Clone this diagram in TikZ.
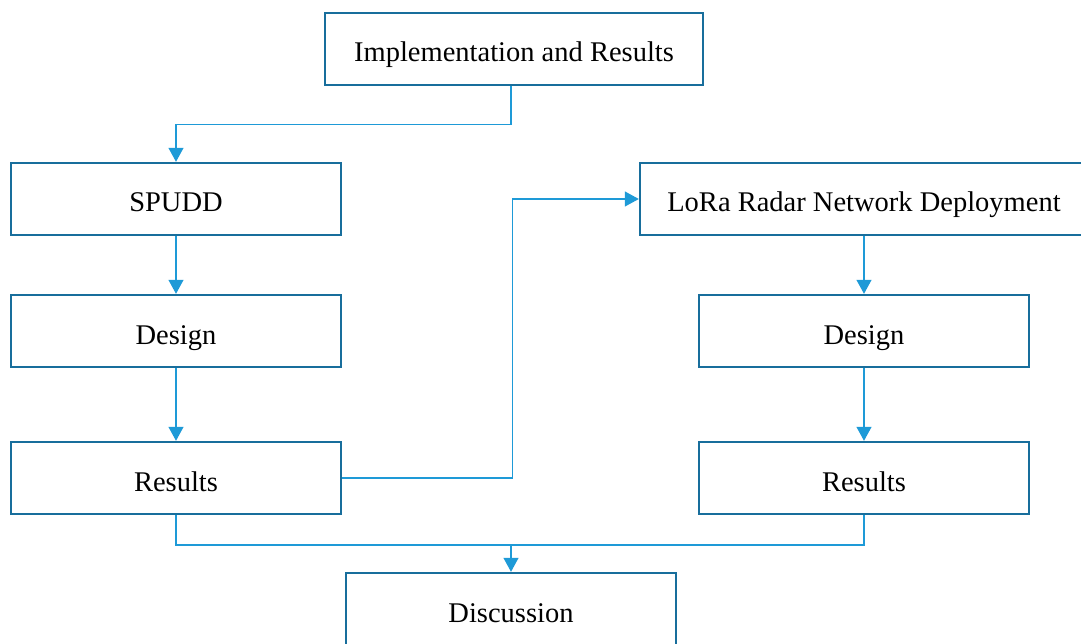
\documentclass[tikz,border=0pt]{standalone}
\usepackage{fontspec}
\setmainfont{Liberation Serif}
\usetikzlibrary{arrows.meta}
\definecolor{boxblue}{RGB}{24,110,156}
\definecolor{linkblue}{RGB}{30,154,215}
\tikzset{
	stage/.style={draw=boxblue, line width=2.4pt, fill=white, minimum width=330pt, minimum height=72pt, inner sep=0pt, text height=26pt, text depth=0pt, font=\fontsize{28.5}{32}\selectfont},
	link/.style={draw=linkblue, line width=1.2pt},
	arrow/.style={link, -{Triangle[length=14pt,width=15pt]}, linkblue}
}

\begin{document}
\begin{tikzpicture}[x=1pt, y=-1pt]
			%%%%% START %%%%%
			\useasboundingbox (0, 0) rectangle (1081, 644);
			
			\node[stage, minimum width=378pt] (impl) at (514, 49) {Implementation and Results};
			
			\node[stage] (spudd) at (176, 199) {SPUDD};
			\node[stage] (designL) at (176, 331) {Design};
			\node[stage] (resultsL) at (176, 478) {Results};
			
			\node[stage, minimum width=448pt] (lora) at (864, 199) {LoRa Radar Network Deployment};
			\node[stage] (designR) at (864, 331) {Design};
			\node[stage] (resultsR) at (864, 478) {Results};
			
			\node[stage] (disc) at (511, 609) {Discussion};
			
			\coordinate (join) at (511, 545);
			
			\draw[arrow] ([xshift=-3pt]impl.south) -- ++(0, 38) -| (spudd.north);
			\draw[arrow] (spudd) -- (designL);
			\draw[arrow] (designL) -- (resultsL);
			\draw[arrow] (resultsL.east) -- ++(170, 0) |- (lora.west);
			
			\draw[arrow] (lora.south) -- (designR);
			\draw[arrow] (designR) -- (resultsR);
			
			\draw[link] (resultsL.south) |- (join) -| (resultsR.south);
			\draw[arrow] (join) -- (disc.north);
			
			%%%%% END %%%%%
\end{tikzpicture}
\end{document}
